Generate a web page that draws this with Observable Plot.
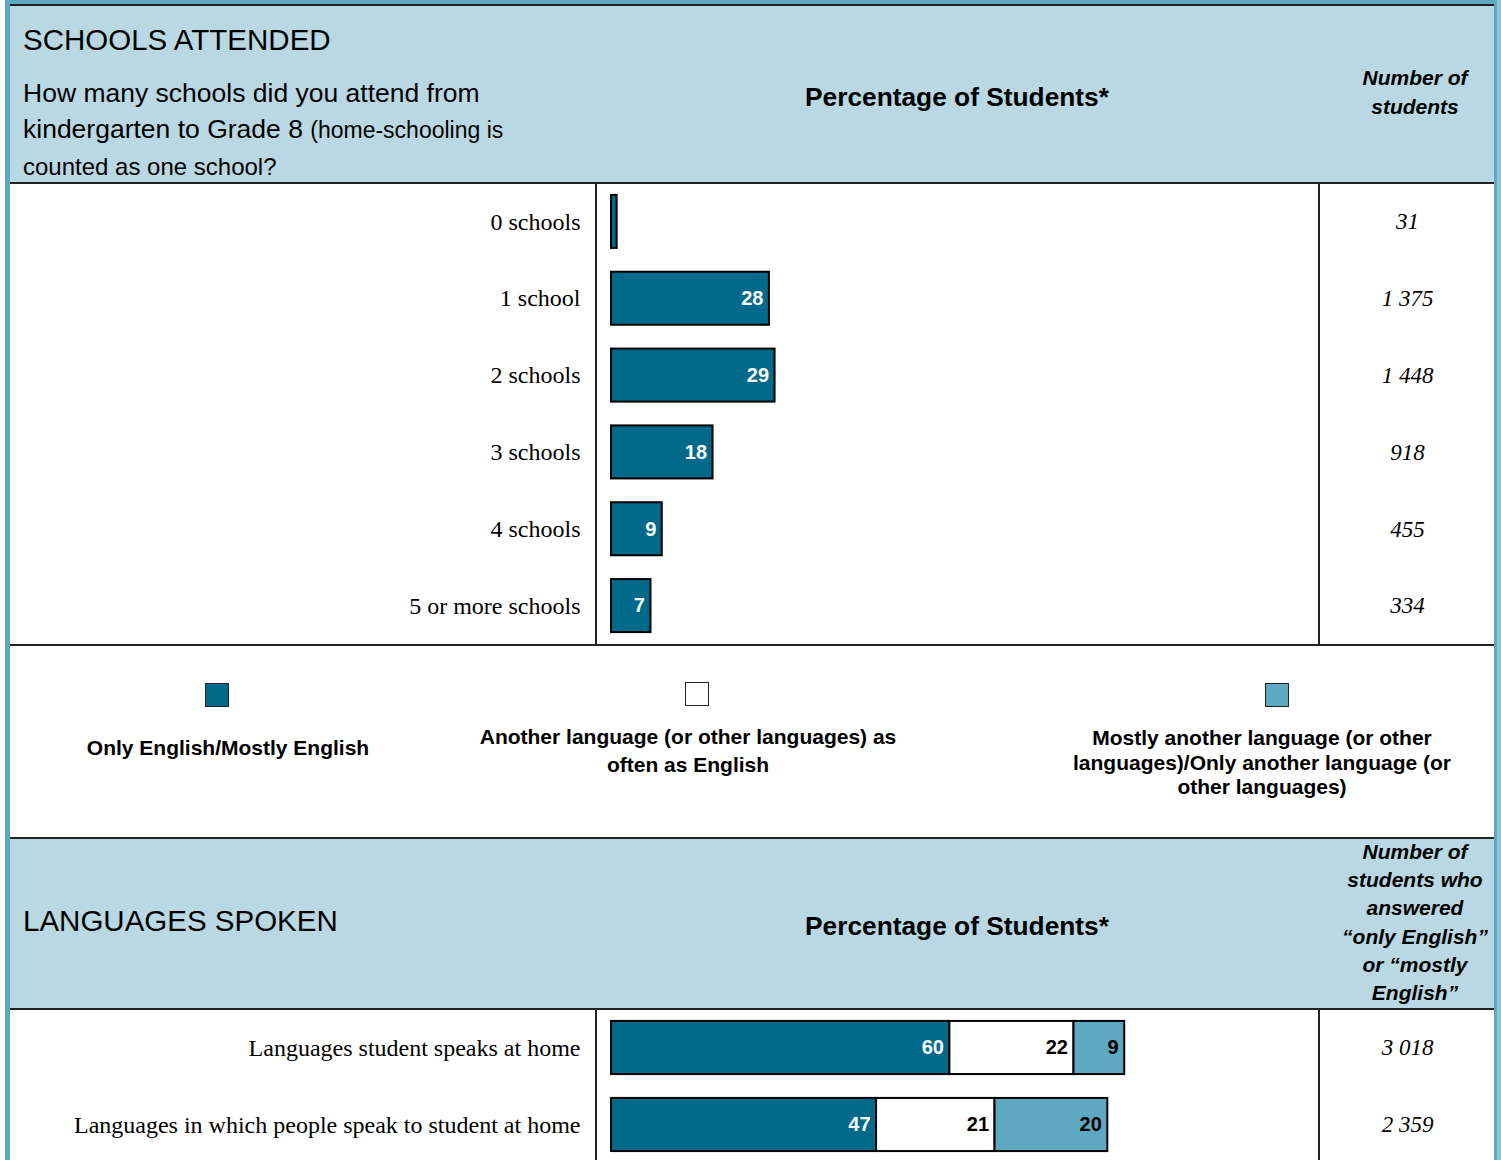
<!DOCTYPE html>
<html>
<head>
<meta charset="utf-8">
<script src="https://cdn.jsdelivr.net/npm/d3@7"></script>
<script src="https://cdn.jsdelivr.net/npm/@observablehq/plot@0.6"></script>
<style>
  html, body { margin: 0; padding: 0; background: #fff; }
  #root { position: relative; width: 1501px; height: 1160px; overflow: hidden; background: #fff; font-family: "Liberation Sans", Arial, sans-serif; color: #000; }
  .abs { position: absolute; }
  .hdr { background: #b9d8e3; }
  .hline { position: absolute; height: 2px; background: #222; }
  .vline { position: absolute; width: 2px; background: #222; }
  .center { text-align: center; }
  .bi { font-weight: bold; font-style: italic; font-size: 21px; }
  .leg { font-weight: bold; font-size: 21px; text-align: center; }
  .sw { position: absolute; width: 24px; height: 24px; border: 1.5px solid #222; box-sizing: border-box; }
</style>
</head>
<body>
<div id="root">
  <!-- frame -->
  <div class="abs" style="left:5px;top:0;width:1492px;height:1160px;background:#5ca8c1;"></div>
  <div class="abs" style="left:1497px;top:0;width:4px;height:1160px;background:#8cc4d6;"></div>
  <div class="abs" style="left:10px;top:5px;width:1484px;height:1155px;background:#fff;"></div>

  <!-- header 1 -->
  <div class="abs hdr" style="left:10px;top:5px;width:1484px;height:178px;"></div>
  <div class="hline" style="left:10px;top:4px;width:1484px;"></div>
  <div class="hline" style="left:10px;top:182px;width:1484px;"></div>
  <div class="abs" style="left:23px;top:22px;font-size:29.5px;line-height:36px;white-space:nowrap;">SCHOOLS ATTENDED</div>
  <div class="abs" style="left:23px;top:75px;font-size:26.5px;line-height:36px;white-space:nowrap;">How many schools did you attend from<br>kindergarten to Grade 8 <span style="font-size:23px;">(home-schooling is</span><br><span style="font-size:24px;">counted as one school?</span></div>
  <div class="abs center" style="left:757px;width:400px;top:80px;font-size:26.3px;font-weight:bold;line-height:34px;">Percentage of Students*</div>
  <div class="abs center bi" style="left:1325px;width:180px;top:63px;line-height:29px;">Number of<br>students</div>

  <!-- body 1 -->
  <div class="vline" style="left:595px;top:183px;height:463px;"></div>
  <div class="vline" style="left:1318px;top:183px;height:463px;"></div>
  <div class="hline" style="left:10px;top:644px;width:1484px;"></div>
  <div id="chart1" class="abs" style="left:10px;top:183px;"></div>
  <div id="num1" class="abs" style="left:1320px;top:183px;"></div>

  <!-- legend -->
  <div id="legend"></div>

  <!-- header 2 -->
  <div class="hline" style="left:10px;top:837px;width:1484px;"></div>
  <div class="abs hdr" style="left:10px;top:839px;width:1484px;height:169px;"></div>
  <div class="hline" style="left:10px;top:1008px;width:1484px;"></div>
  <div class="abs" style="left:23px;top:903px;font-size:29.5px;line-height:36px;white-space:nowrap;">LANGUAGES SPOKEN</div>
  <div class="abs center" style="left:757px;width:400px;top:909px;font-size:26.3px;font-weight:bold;line-height:34px;">Percentage of Students*</div>
  <div class="abs center bi" style="left:1325px;width:180px;top:838px;line-height:28.2px;">Number of<br>students who<br>answered<br>“only English”<br>or “mostly<br>English”</div>

  <!-- body 2 -->
  <div class="vline" style="left:595px;top:1009px;height:160px;"></div>
  <div class="vline" style="left:1318px;top:1009px;height:160px;"></div>
  <div id="chart2" class="abs" style="left:10px;top:1009px;"></div>
  <div id="num2" class="abs" style="left:1320px;top:1009px;"></div>
</div>

<script>
// ---------- DATA ----------
const schoolCats = ["0 schools", "1 school", "2 schools", "3 schools", "4 schools", "5 or more schools"];
const schoolPct = [1, 28, 29, 18, 9, 7];
const schoolN = ["31", "1 375", "1 448", "918", "455", "334"];

const langRows = ["Languages student speaks at home", "Languages in which people speak to student at home"];
const langCats = ["Only English/Mostly English", "Another language (or other languages) as often as English", "Mostly another language (or other languages)/Only another language (or other languages)"];
const langLegendLines = [["Only English/Mostly English"], ["Another language (or other languages) as", "often as English"], ["Mostly another language (or other", "languages)/Only another language (or", "other languages)"]];
const langPct = [[60, 22, 9], [47, 21, 20]];
const langN = ["3 018", "2 359"];

const colors = ["#01698a", "#ffffff", "#5ea9c1"];

// ---------- BUILD ----------
const schoolData = schoolCats.map((c, i) => ({cat: c, pct: schoolPct[i], n: schoolN[i]}));
const langData = [];
langRows.forEach((r, i) => langCats.forEach((c, j) => langData.push({row: r, cat: c, ci: j, pct: langPct[i][j]})));
const langNData = langRows.map((r, i) => ({row: r, n: langN[i]}));

const common = {
  marginLeft: 601, marginRight: 145, marginTop: 0, marginBottom: 0,
  style: {fontFamily: "'Liberation Serif', 'Times New Roman', serif", fontSize: "24px", color: "#000", background: "transparent", overflow: "visible"}
};
const yOpts = (domain) => ({domain, paddingInner: 0.31, paddingOuter: 0.155, round: false, label: null, tickSize: 0, tickPadding: 31});
const labelFont = {fontFamily: "'Liberation Sans', Arial, sans-serif", fontWeight: "bold", fontSize: 20, textAnchor: "end", dx: -6};

// Chart 1: schools attended
document.getElementById("chart1").append(Plot.plot({
  ...common, width: 1310, height: 461,
  x: {domain: [0, 100], axis: null},
  y: yOpts(schoolCats),
  marks: [
    Plot.barX(schoolData, {x: "pct", y: "cat", fill: colors[0], stroke: "#000", strokeWidth: 2}),
    Plot.text(schoolData.filter(d => d.pct >= 5), {x: "pct", y: "cat", text: d => String(d.pct), fill: "white", ...labelFont})
  ]
}));

document.getElementById("num1").append(Plot.plot({
  width: 174, height: 461, marginLeft: 0, marginRight: 0, marginTop: 0, marginBottom: 0,
  style: {background: "transparent", overflow: "visible"},
  y: {domain: schoolCats, paddingInner: 0.31, paddingOuter: 0.155, round: false, axis: null},
  marks: [
    Plot.text(schoolData, {y: "cat", text: "n", frameAnchor: "middle", fontFamily: "'Liberation Serif', serif", fontStyle: "italic", fontSize: 23, fill: "#000"})
  ]
}));

// Chart 2: languages spoken
document.getElementById("chart2").append(Plot.plot({
  ...common, width: 1310, height: 154,
  x: {domain: [0, 100], axis: null},
  y: yOpts(langRows),
  color: {domain: langCats, range: colors},
  marks: [
    Plot.barX(langData, Plot.stackX({x: "pct", y: "row", fill: "cat", stroke: "#000", strokeWidth: 2})),
    Plot.text(langData, Plot.stackX2({x: "pct", y: "row", z: "cat", text: d => String(d.pct), fill: d => d.ci === 0 ? "white" : "black", ...labelFont}))
  ]
}));

document.getElementById("num2").append(Plot.plot({
  width: 174, height: 154, marginLeft: 0, marginRight: 0, marginTop: 0, marginBottom: 0,
  style: {background: "transparent", overflow: "visible"},
  y: {domain: langRows, paddingInner: 0.31, paddingOuter: 0.155, round: false, axis: null},
  marks: [
    Plot.text(langNData, {y: "row", text: "n", frameAnchor: "middle", fontFamily: "'Liberation Serif', serif", fontStyle: "italic", fontSize: 23, fill: "#000"})
  ]
}));

// Legend
const legendPos = [{cx: 217, sy: 683, tx: 228, ty: 734, lh: 28}, {cx: 697, sy: 682, tx: 688, ty: 723, lh: 28}, {cx: 1277, sy: 683, tx: 1262, ty: 726, lh: 24.5}];
const legend = document.getElementById("legend");
langCats.forEach((c, i) => {
  const p = legendPos[i];
  const sw = document.createElement("div");
  sw.className = "sw";
  sw.style.left = (p.cx - 12) + "px";
  sw.style.top = p.sy + "px";
  sw.style.background = colors[i];
  legend.append(sw);
  const t = document.createElement("div");
  t.className = "abs leg";
  t.style.left = (p.tx - 230) + "px";
  t.style.width = "460px";
  t.style.top = p.ty + "px";
  t.style.lineHeight = p.lh + "px";
  t.innerHTML = langLegendLines[i].join("<br>");
  legend.append(t);
});
</script>
</body>
</html>
